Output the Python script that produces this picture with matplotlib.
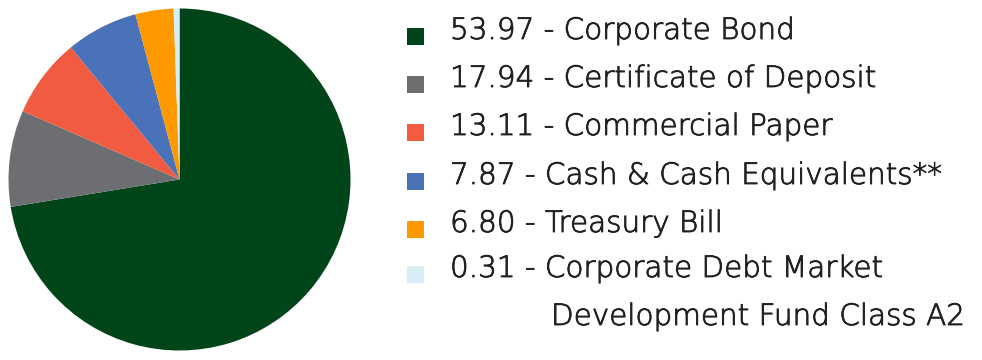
import matplotlib
matplotlib.use("Agg")
import matplotlib.pyplot as plt
from matplotlib.patches import Rectangle
import matplotlib.patheffects as pe

# Slice sizes as drawn in the picture (share of circle)
slice_sizes = [72.4, 9.1, 7.5, 6.8, 3.6, 0.55]
# Legend values / categories as printed
legend_values = ["53.97", "17.94", "13.11", "7.87", "6.80", "0.31"]
categories = [
    "Corporate Bond",
    "Certificate of Deposit",
    "Commercial Paper",
    "Cash & Cash Equivalents**",
    "Treasury Bill",
    "Corporate Debt Market\nDevelopment Fund Class A2",
]
colors = ["#00441a", "#6d6e71", "#f15b41", "#4a72b8", "#fe9a00", "#d8eef6"]

W, H = 982, 360
fig = plt.figure(figsize=(W / 100, H / 100), dpi=100)
fig.patch.set_facecolor("white")

cx, cy, r = 179.5, 179.5, 171
ax = fig.add_axes([(cx - r) / W, (H - cy - r) / H, 2 * r / W, 2 * r / H])
ax.pie(slice_sizes, colors=colors, startangle=90, counterclock=False,
       radius=1, wedgeprops=dict(linewidth=0))
ax.set_xlim(-1, 1)
ax.set_ylim(-1, 1)
ax.set_aspect("equal")
ax.axis("off")

ov = fig.add_axes([0, 0, 1, 1])
ov.set_xlim(0, W)
ov.set_ylim(H, 0)
ov.axis("off")

baselines = [39, 87, 135, 184, 232, 277]
txtcol = "#231f20"
fx = [pe.withStroke(linewidth=0.6, foreground=txtcol)]
style = dict(fontsize=21.2, family="DejaVu Sans", weight="light", color=txtcol,
             va="baseline", ha="left", path_effects=fx)
for i, (v, c, col) in enumerate(zip(legend_values, categories, colors)):
    b = baselines[i]
    ov.add_patch(Rectangle((407, b - 11), 17, 17, facecolor=col, edgecolor="none"))
    lines = c.split("\n")
    ov.text(450, b, f"{v} - {lines[0]}", **style)
    for k, extra in enumerate(lines[1:]):
        ov.text(551, b + 48 * (k + 1), extra, **style)

fig.savefig("out.png", dpi=100, facecolor="white")
